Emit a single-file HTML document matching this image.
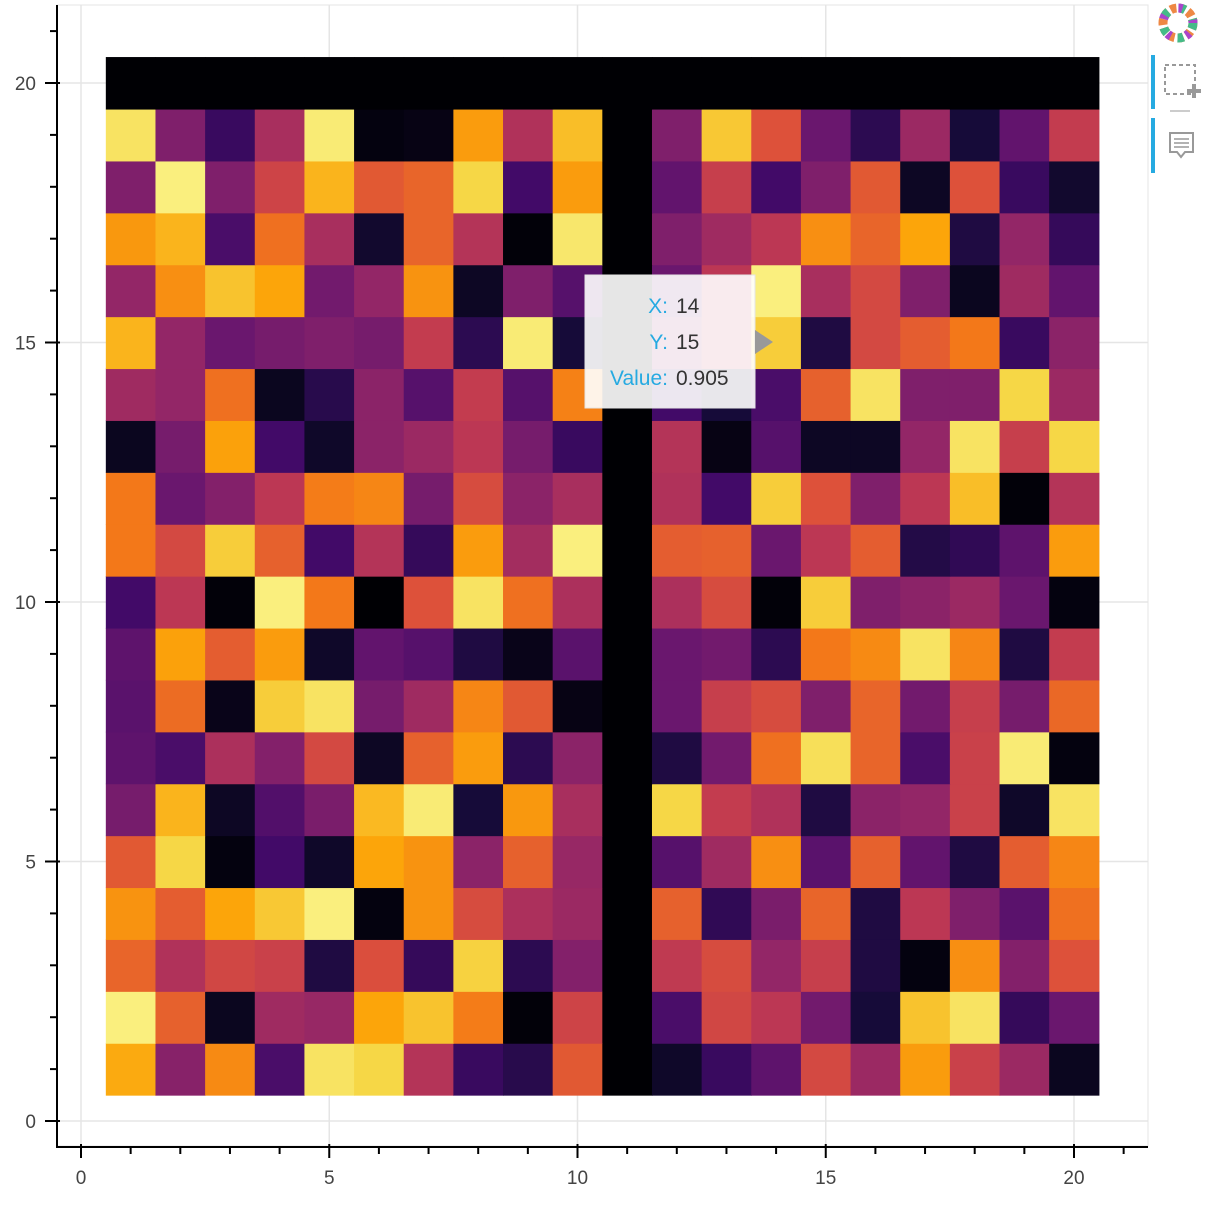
<!DOCTYPE html>
<html><head><meta charset="utf-8"><style>
body{margin:0;background:#fff;width:1213px;height:1210px;overflow:hidden;font-family:"Liberation Sans",sans-serif}
svg{position:absolute;left:0;top:0}
</style></head><body>
<svg id="chart" width="1213" height="1210" xmlns="http://www.w3.org/2000/svg">
<g id="grid"></g>
<g id="cells"></g>
<g id="axes"></g>
<g id="tooltip">
  <rect x="585" y="275" width="170" height="133" fill="#fff" fill-opacity="0.9" stroke="#e5e5e5"/>
  <polygon points="755,330 773,342 755,354" fill="#999"/>
  <text x="668" y="313" text-anchor="end" font-size="21" fill="#26aae1">X:</text>
  <text x="676" y="313" font-size="21" fill="#333">14</text>
  <text x="668" y="349" text-anchor="end" font-size="21" fill="#26aae1">Y:</text>
  <text x="676" y="349" font-size="21" fill="#333">15</text>
  <text x="668" y="385" text-anchor="end" font-size="21" fill="#26aae1">Value:</text>
  <text x="676" y="385" font-size="21" fill="#333">0.905</text>
</g>
<g id="toolbar">
  <g>
    <circle cx="1178" cy="23" r="15" fill="none" stroke="#e84" stroke-width="9" stroke-dasharray="6 3"/>
    <circle cx="1178" cy="23" r="15" fill="none" stroke="#4b8" stroke-width="9" stroke-dasharray="6 12" />
    <circle cx="1178" cy="23" r="15" fill="none" stroke="#a4c" stroke-width="9" stroke-dasharray="4 16" stroke-dashoffset="9"/>
  </g>
  <rect x="1151" y="55" width="4" height="54" fill="#26aae1"/>
  <g>
    <rect x="1165" y="65" width="30" height="29" fill="none" stroke="#999" stroke-width="2" stroke-dasharray="4 3"/>
    <path d="M1194 84v14M1187 91h14" stroke="#999" stroke-width="4"/>
  </g>
  <line x1="1170" y1="111" x2="1190" y2="111" stroke="#ccc" stroke-width="2"/>
  <rect x="1151" y="118" width="4" height="55" fill="#26aae1"/>
  <g>
    <path d="M1170 133h23v19h-8l-4 5-4-5h-7z" fill="none" stroke="#999" stroke-width="2"/>
    <path d="M1174 139h15M1174 143h15M1174 147h15" stroke="#999" stroke-width="1.5"/>
  </g>
</g>
</svg>
<script>
const xCats=[1,2,3,4,5,6,7,8,9,10,11,12,13,14,15,16,17,18,19,20];
const xTicks=[0,5,10,15,20];
const yTicks=[0,5,10,15,20];
// rows from y=20 (top) down to y=1
const row20=[0,0,0,0,0,0,0,0,0,0,0,0,0,0,0,0,0,0,0,0];
const row19=[0.93,0.35,0.18,0.45,0.95,0.02,0.03,0.78,0.47,0.85,0,0.35,0.87,0.6,0.3,0.15,0.42,0.1,0.28,0.52];
const row18=[0.35,0.96,0.35,0.55,0.83,0.62,0.65,0.9,0.2,0.78,0,0.28,0.53,0.2,0.35,0.62,0.06,0.6,0.18,0.08];
const row17=[0.77,0.83,0.22,0.68,0.45,0.08,0.65,0.48,0.01,0.94,0,0.35,0.43,0.5,0.75,0.65,0.8,0.12,0.4,0.17];
const row16=[0.4,0.75,0.86,0.8,0.32,0.4,0.76,0.06,0.35,0.25,0,0.3,0.5,0.96,0.45,0.57,0.35,0.05,0.43,0.28];
const row15=[0.83,0.4,0.3,0.33,0.35,0.33,0.52,0.15,0.95,0.1,0,0.4,0.5,0.88,0.12,0.57,0.63,0.7,0.18,0.38];
const row14=[0.43,0.4,0.68,0.05,0.14,0.38,0.25,0.52,0.25,0.72,0,0.2,0.1,0.22,0.64,0.93,0.35,0.35,0.9,0.42];
const row13=[0.05,0.33,0.79,0.2,0.07,0.38,0.42,0.5,0.33,0.18,0,0.48,0.03,0.25,0.06,0.06,0.4,0.93,0.53,0.9];
const row12=[0.7,0.3,0.36,0.5,0.71,0.73,0.33,0.58,0.38,0.45,0,0.47,0.2,0.88,0.6,0.35,0.5,0.85,0.01,0.48];
const row11=[0.7,0.57,0.88,0.64,0.2,0.48,0.17,0.78,0.44,0.96,0,0.63,0.64,0.3,0.5,0.63,0.13,0.16,0.27,0.78];
const row10=[0.2,0.5,0.01,0.96,0.7,0.0,0.6,0.93,0.68,0.46,0,0.46,0.58,0.01,0.88,0.35,0.38,0.42,0.3,0.02];
const row9=[0.27,0.79,0.63,0.78,0.07,0.28,0.25,0.12,0.04,0.26,0,0.3,0.32,0.15,0.7,0.74,0.93,0.73,0.12,0.52];
const row8=[0.26,0.67,0.04,0.88,0.93,0.33,0.43,0.73,0.62,0.03,0,0.3,0.53,0.58,0.35,0.65,0.32,0.53,0.33,0.66];
const row7=[0.27,0.22,0.46,0.36,0.57,0.06,0.64,0.78,0.15,0.38,0,0.12,0.32,0.68,0.92,0.65,0.22,0.54,0.95,0.02];
const row6=[0.33,0.83,0.06,0.24,0.34,0.84,0.95,0.1,0.77,0.45,0,0.9,0.52,0.47,0.12,0.38,0.4,0.54,0.07,0.93];
const row5=[0.62,0.9,0.02,0.2,0.07,0.8,0.76,0.38,0.64,0.41,0,0.25,0.43,0.75,0.26,0.64,0.28,0.12,0.63,0.73];
const row4=[0.76,0.63,0.8,0.87,0.96,0.02,0.76,0.58,0.46,0.42,0,0.64,0.16,0.34,0.65,0.12,0.5,0.35,0.26,0.68];
const row3=[0.65,0.47,0.56,0.54,0.12,0.59,0.17,0.89,0.15,0.36,0,0.51,0.58,0.4,0.53,0.12,0.02,0.75,0.36,0.6];
const row2=[0.96,0.64,0.05,0.43,0.41,0.8,0.86,0.71,0.01,0.55,0,0.22,0.56,0.5,0.32,0.1,0.86,0.93,0.17,0.3];
const row1=[0.81,0.37,0.74,0.22,0.93,0.9,0.48,0.18,0.14,0.62,0,0.07,0.18,0.27,0.57,0.42,0.78,0.54,0.42,0.05];
const rows=[row1,row2,row3,row4,row5,row6,row7,row8,row9,row10,row11,row12,row13,row14,row15,row16,row17,row18,row19,row20];

const NS="http://www.w3.org/2000/svg";
const X0=81,XS=(1074-81)/20,Y0=1121,YS=(1121-83)/20;
const sx=v=>X0+v*XS, sy=v=>Y0-v*YS;
const stops=["#000004","#160b39","#420a68","#6a176e","#932667","#bc3754","#dd513a","#f37819","#fca50a","#f6d746","#fcffa4"];
function hex(h){return [1,3,5].map(i=>parseInt(h.substr(i,2),16));}
function inferno(v){v=Math.max(0,Math.min(1,v))*10;const i=Math.min(9,Math.floor(v)),t=v-i;const a=hex(stops[i]),b=hex(stops[i+1]);return "rgb("+a.map((c,k)=>Math.round(c+(b[k]-c)*t)).join(",")+")";}
function el(tag,attrs,parent){const e=document.createElementNS(NS,tag);for(const k in attrs)e.setAttribute(k,attrs[k]);parent.appendChild(e);return e;}

const grid=document.getElementById('grid');
el('rect',{x:57,y:5,width:1091,height:1141,fill:'none',stroke:'#e5e5e5'},grid);
xTicks.forEach(t=>{const l=el('line',{x1:sx(t),x2:sx(t),y1:5,y2:1146,stroke:'#e5e5e5','stroke-width':1.5},grid);

});
yTicks.forEach(t=>{const l=el('line',{x1:57,x2:1148,y1:sy(t),y2:sy(t),stroke:'#e5e5e5','stroke-width':1.5},grid);

});

const cells=document.getElementById('cells');
rows.forEach((r,ri)=>{const y=ri+1;r.forEach((v,ci)=>{const x=xCats[ci];
const c=el('rect',{x:sx(x-0.5),y:sy(y+0.5),width:XS+0.6,height:YS+0.6,fill:inferno(v)},cells);

});});

const axes=document.getElementById('axes');
el('line',{x1:57,x2:57,y1:5,y2:1147,stroke:'#000','stroke-width':2},axes);
el('line',{x1:56,x2:1148,y1:1147,y2:1147,stroke:'#000','stroke-width':2},axes);
for(let t=-0;t<=21;t++){if(sx(t)>1148)break;const maj=t%5===0;
el('line',{x1:sx(t),x2:sx(t),y1:maj?1144:1147,y2:maj?1158:1154,stroke:'#000','stroke-width':2},axes);}
for(let t=0;t<=21;t++){const maj=t%5===0;if(sy(t)<5)break;
el('line',{x1:maj?45:50,x2:maj?60:57,y1:sy(t),y2:sy(t),stroke:'#000','stroke-width':2},axes);}
xTicks.forEach(t=>{const tx=el('text',{x:sx(t),y:1184,'text-anchor':'middle','font-size':19,fill:'#444'},axes);tx.textContent=t;

});
yTicks.forEach(t=>{const tx=el('text',{x:36,y:sy(t)+7,'text-anchor':'end','font-size':19,fill:'#444'},axes);tx.textContent=t;

});
</script>
</body></html>
